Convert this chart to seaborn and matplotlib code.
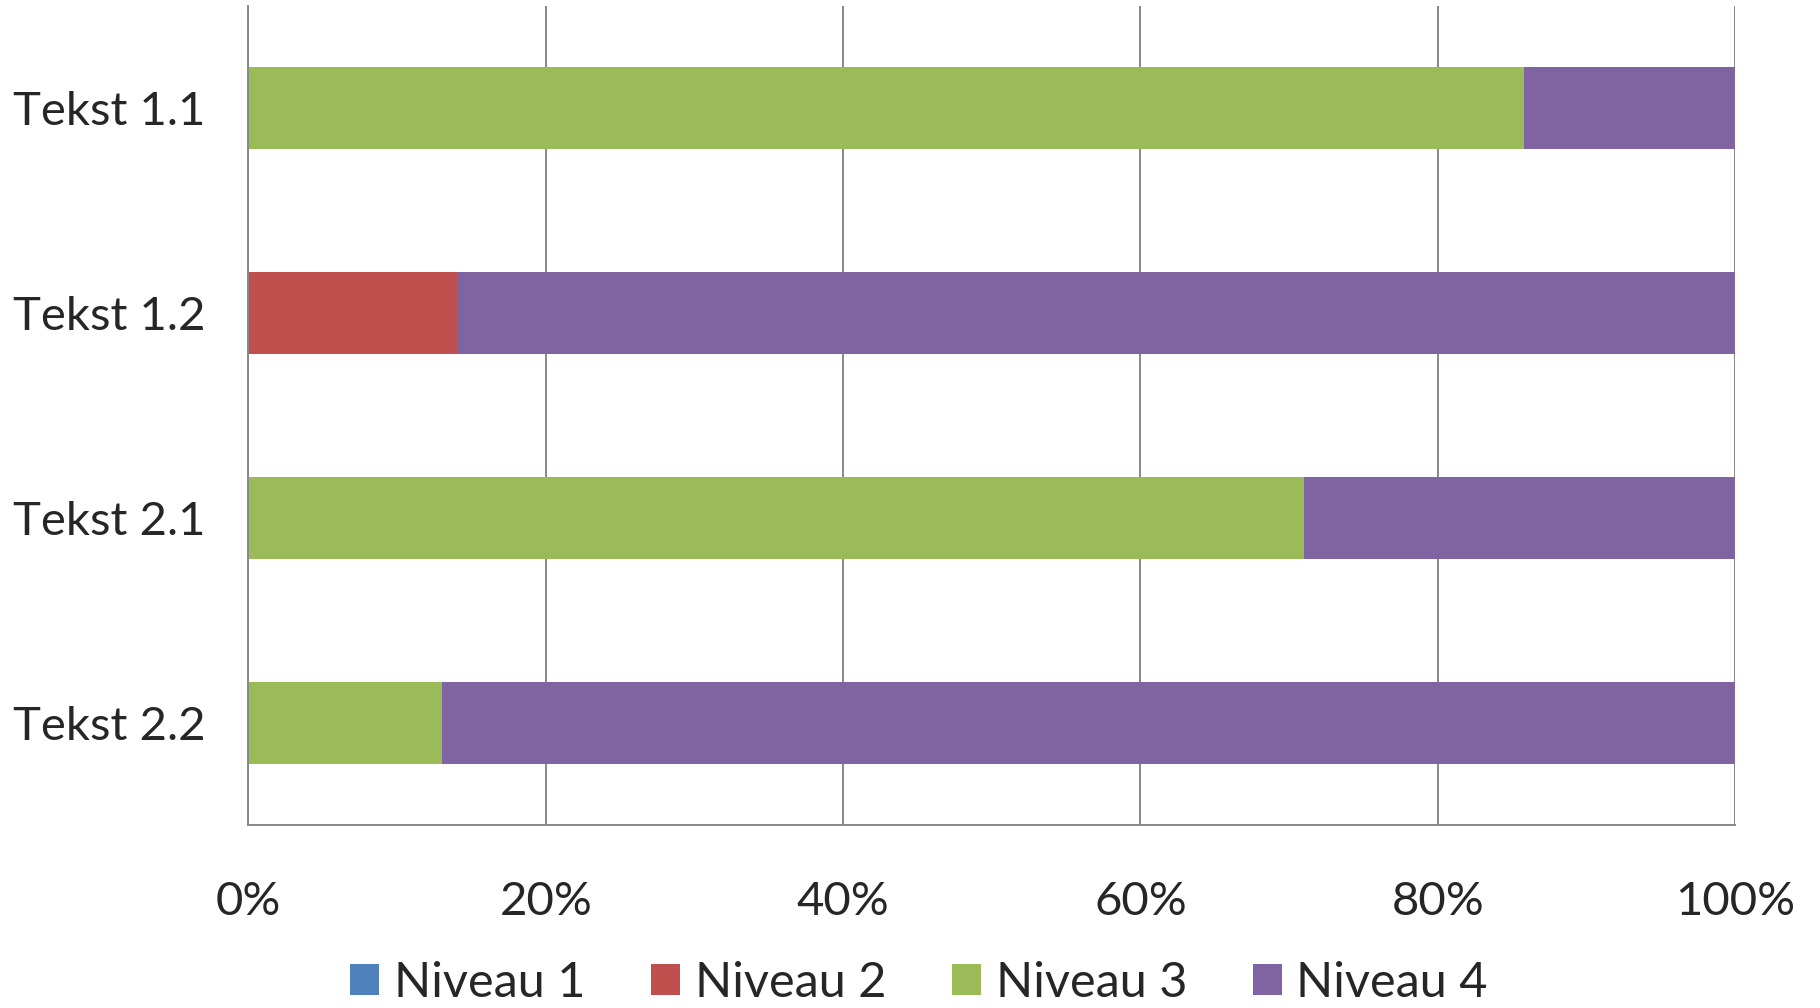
import pandas as pd
import matplotlib.pyplot as plt
import seaborn as sns
from matplotlib.patches import Patch

sns.set_style("white")
plt.rcParams["font.family"] = ["Lato", "DejaVu Sans"]

# Data (percent of each text).
texts = ["Tekst 1.1", "Tekst 1.2", "Tekst 2.1", "Tekst 2.2"]
levels = ["Niveau 1", "Niveau 2", "Niveau 3", "Niveau 4"]
niveau_1 = [0, 0, 0, 0]
niveau_2 = [0, 14.0, 0, 0]
niveau_3 = [85.8, 0, 71.0, 13.0]
niveau_4 = [14.2, 86.0, 29.0, 87.0]
colors = ["#4F81BD", "#C0504D", "#9BBB59", "#8064A2"]

df = pd.DataFrame({"Tekst": texts, "Niveau 1": niveau_1, "Niveau 2": niveau_2,
                   "Niveau 3": niveau_3, "Niveau 4": niveau_4}).set_index("Tekst")
cum = df.cumsum(axis=1)

fig = plt.figure(figsize=(18.2, 10.08), dpi=100)
ax = fig.add_axes([0.1365, 0.1815, 0.8168, 0.8125])

# Stacked bars: draw cumulative totals from the last level back to the first.
for lvl, col in reversed(list(zip(levels, colors))):
    sns.barplot(x=cum[lvl].values, y=cum.index, color=col, saturation=1,
                width=0.4, linewidth=0, orient="h", ax=ax)

ax.set_xlim(0, 100)
ax.set_xticks([0, 20, 40, 60, 80, 100])
ax.set_xticklabels(["0%", "20%", "40%", "60%", "80%", "100%"])
ax.set_xlabel("")
ax.set_ylabel("")
ax.set_axisbelow(True)
ax.xaxis.grid(True, color="#888888", linewidth=1.4)
ax.yaxis.grid(False)
for s in ["top", "right"]:
    ax.spines[s].set_visible(False)
for s in ["left", "bottom"]:
    ax.spines[s].set_color("#888888")
    ax.spines[s].set_linewidth(1.4)
ax.tick_params(axis="x", length=0, pad=40, labelsize=34)
ax.tick_params(axis="y", length=0, pad=31, labelsize=34)
for lab in ax.get_yticklabels():
    lab.set_horizontalalignment("right")

handles = [Patch(facecolor=c, edgecolor="none") for c in colors]
fig.legend(handles, levels, loc="upper center", bbox_to_anchor=(0.505, 0.047),
           ncol=4, frameon=False, fontsize=35, handlelength=0.6, handleheight=0.6,
           handletextpad=0.3, columnspacing=1.35, borderpad=0, borderaxespad=0)

fig.savefig("out.png", dpi=100)
